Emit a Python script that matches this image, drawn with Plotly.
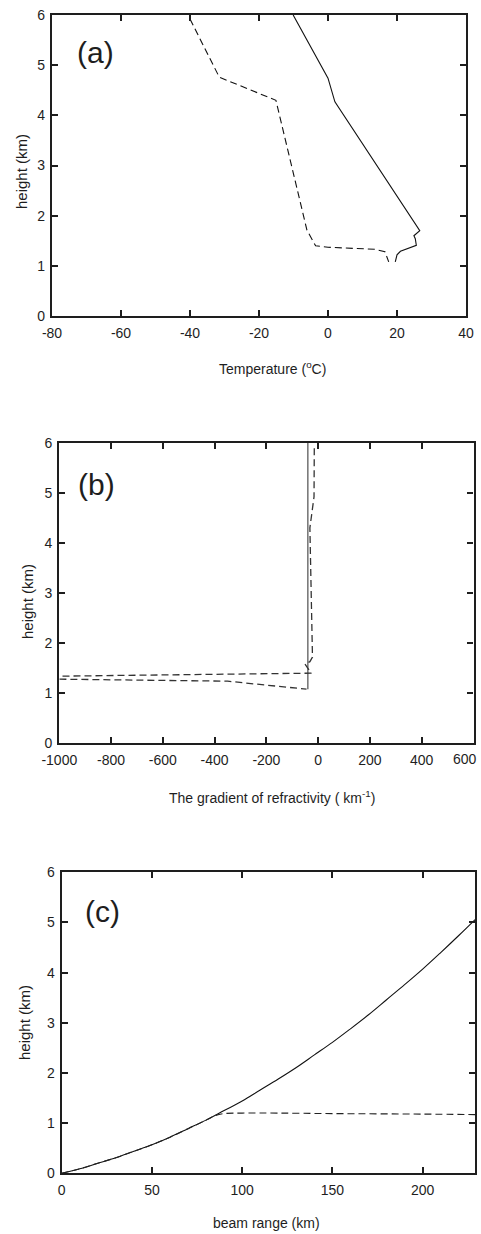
import plotly.graph_objects as go

# ---- (a) temperature / dew-point profiles ----
temp_c = [-10.1, -1.0, 0.0, 2.0, 26.6, 24.9, 25.3, 25.6, 21.0, 20.0, 19.5]
temp_h = [6.00, 4.86, 4.74, 4.27, 1.70, 1.60, 1.54, 1.41, 1.29, 1.22, 1.08]
dew_c = [-40.0, -31.5, -15.1, -6.1, -3.6, 0.0, 13.6, 16.5, 17.6]
dew_h = [5.92, 4.76, 4.30, 1.71, 1.40, 1.37, 1.33, 1.28, 1.08]

# ---- (b) refractivity gradient ----
grad_std = [-40, -40]
grad_std_h = [1.08, 6.00]
grad_obs = [-15, -16, -32, -22, -32, -51, -35, -26, -1490, -1000, -350, -45]
grad_obs_h = [5.89, 4.92, 4.30, 1.72, 1.63, 1.58, 1.46, 1.40, 1.31, 1.28, 1.24, 1.08]

# ---- (c) beam height vs range ----
beam_r = [0, 10, 20, 30, 40, 50, 60, 70, 80, 90, 100, 110, 120, 130, 140,
          150, 160, 170, 180, 190, 200, 210, 220, 230]
beam_std_h = [0.00, 0.09, 0.20, 0.31, 0.44, 0.57, 0.72, 0.89, 1.06, 1.25, 1.44,
              1.66, 1.88, 2.11, 2.36, 2.61, 2.88, 3.16, 3.46, 3.76, 4.07, 4.40,
              4.74, 5.09]
beam_duct_r = [0, 10, 20, 30, 40, 50, 60, 70, 80, 85, 90, 100, 120, 150, 200, 230]
beam_duct_h = [0.00, 0.09, 0.20, 0.31, 0.44, 0.57, 0.72, 0.89, 1.06, 1.15, 1.19,
               1.20, 1.20, 1.19, 1.18, 1.17]

height_ticks = [0, 1, 2, 3, 4, 5, 6]
temp_ticks = [-80, -60, -40, -20, 0, 20, 40]
grad_ticks = [-1000, -800, -600, -400, -200, 0, 200, 400]
range_ticks = [0, 50, 100, 150, 200]

W, H = 481, 1234
FONT = "Liberation Sans, Arial, Helvetica, sans-serif"
INK = "#1e1e1e"


def px_x(p):
    return p / W


def px_y(p):
    return 1 - p / H


def labels(vals):
    # plain hyphen-minus for negative numbers
    return [str(v) for v in vals]


axis_style = dict(
    showline=True, linewidth=2.2, linecolor=INK, mirror="allticks",
    ticks="inside", ticklen=6, tickwidth=2, tickcolor=INK,
    showgrid=False, zeroline=False, automargin=False,
    tickfont=dict(family=FONT, size=14, color=INK),
)
x_style = dict(axis_style, ticklabelstandoff=3)
y_style = dict(axis_style, ticklabelstandoff=2)

fig = go.Figure()

dash_pat = "7px,4px"

fig.add_trace(go.Scatter(x=temp_c, y=temp_h, mode="lines",
                         line=dict(color="#111", width=1.1),
                         xaxis="x", yaxis="y", showlegend=False))
fig.add_trace(go.Scatter(x=dew_c, y=dew_h, mode="lines",
                         line=dict(color="#111", width=1.1, dash=dash_pat),
                         xaxis="x", yaxis="y", showlegend=False))

fig.add_trace(go.Scatter(x=grad_std, y=grad_std_h, mode="lines",
                         line=dict(color="#7a7a7a", width=1.6),
                         xaxis="x2", yaxis="y2", showlegend=False))
fig.add_trace(go.Scatter(x=grad_obs, y=grad_obs_h, mode="lines",
                         line=dict(color="#333", width=1.3, dash=dash_pat),
                         xaxis="x2", yaxis="y2", showlegend=False))

fig.add_trace(go.Scatter(x=beam_r, y=beam_std_h, mode="lines",
                         line=dict(color="#111", width=1.1, shape="spline"),
                         xaxis="x3", yaxis="y3", showlegend=False))
fig.add_trace(go.Scatter(x=beam_duct_r, y=beam_duct_h, mode="lines",
                         line=dict(color="#222", width=1.1, dash=dash_pat, shape="spline"),
                         xaxis="x3", yaxis="y3", showlegend=False))

# panel boxes in pixel coordinates: (left, right, top, bottom)
boxes = [(52, 466, 15, 316), (59.3, 473.5, 442.7, 743.3), (61.7, 475, 872.3, 1173.3)]

fig.update_layout(
    width=W, height=H, margin=dict(l=0, r=0, t=0, b=0),
    paper_bgcolor="white", plot_bgcolor="white",
    xaxis=dict(x_style, domain=[px_x(boxes[0][0]), px_x(boxes[0][1])],
               range=[-80, 40], tickvals=temp_ticks, ticktext=labels(temp_ticks),
               anchor="y"),
    yaxis=dict(y_style, domain=[px_y(boxes[0][3]), px_y(boxes[0][2])],
               range=[0, 6], tickvals=height_ticks, ticktext=labels(height_ticks),
               anchor="x"),
    xaxis2=dict(x_style, domain=[px_x(boxes[1][0]), px_x(boxes[1][1])],
                range=[-1000, 600], tickvals=grad_ticks, ticktext=labels(grad_ticks),
                anchor="y2"),
    yaxis2=dict(y_style, domain=[px_y(boxes[1][3]), px_y(boxes[1][2])],
                range=[0, 6], tickvals=height_ticks, ticktext=labels(height_ticks),
                anchor="x2"),
    xaxis3=dict(x_style, domain=[px_x(boxes[2][0]), px_x(boxes[2][1])],
                range=[0, 229], tickvals=range_ticks, ticktext=labels(range_ticks),
                anchor="y3"),
    yaxis3=dict(y_style, domain=[px_y(boxes[2][3]), px_y(boxes[2][2])],
                range=[0, 6], tickvals=height_ticks, ticktext=labels(height_ticks),
                anchor="x3"),
)

ann = []


def text(x, y, s, size, angle=0):
    ann.append(dict(x=px_x(x), y=px_y(y), xref="paper", yref="paper",
                    text=s, showarrow=False, textangle=angle,
                    xanchor="center", yanchor="middle",
                    font=dict(family=FONT, size=size, color=INK)))


# panel tags
text(95, 52, "(a)", 30)
text(96, 484, "(b)", 30)
text(102, 911, "(c)", 30)

# axis titles
text(272, 368, "Temperature (<sup>o</sup>C)", 14)
text(272, 797, "The gradient of refractivity ( km<sup>-1</sup>)", 14)
text(266, 1223, "beam range (km)", 14)
text(21, 172, "height (km)", 15, -90)
text(27, 602, "height (km)", 15, -90)
text(25, 1023, "height (km)", 15, -90)

# right-most tick label of panel (b)
text(465, 759, "600", 14)

fig.update_layout(annotations=ann)

fig.write_html("out.html")
